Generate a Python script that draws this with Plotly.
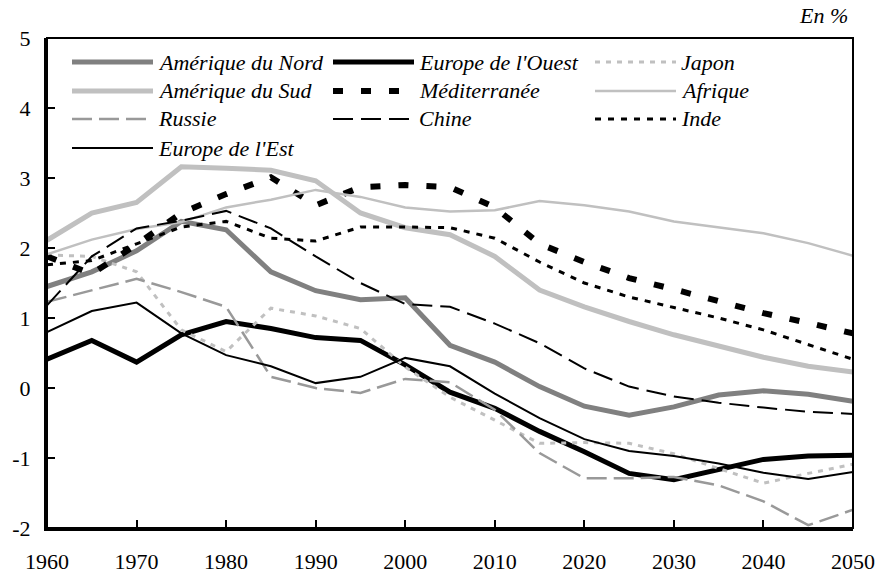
import plotly.graph_objects as go

years = list(range(1960, 2051, 5))

amerique_nord = [1.45, 1.66, 1.96, 2.38, 2.26, 1.66, 1.39, 1.26, 1.29, 0.61, 0.37, 0.02, -0.26, -0.39, -0.27, -0.10, -0.04, -0.09, -0.19]
europe_ouest = [0.41, 0.68, 0.37, 0.76, 0.95, 0.85, 0.72, 0.68, 0.33, -0.06, -0.29, -0.62, -0.91, -1.22, -1.31, -1.17, -1.02, -0.97, -0.96]
japon = [1.90, 1.88, 1.66, 0.83, 0.52, 1.14, 1.03, 0.85, 0.30, -0.13, -0.46, -0.79, -0.78, -0.79, -0.94, -1.15, -1.36, -1.22, -1.09]
amerique_sud = [2.11, 2.50, 2.65, 3.16, 3.14, 3.11, 2.96, 2.50, 2.29, 2.19, 1.88, 1.40, 1.16, 0.95, 0.76, 0.60, 0.44, 0.31, 0.23]
mediterranee = [1.88, 1.63, 2.05, 2.50, 2.77, 3.01, 2.61, 2.87, 2.90, 2.87, 2.58, 2.06, 1.80, 1.57, 1.41, 1.24, 1.07, 0.93, 0.78]
afrique = [1.91, 2.12, 2.27, 2.37, 2.58, 2.69, 2.83, 2.73, 2.58, 2.52, 2.54, 2.67, 2.61, 2.52, 2.38, 2.30, 2.21, 2.07, 1.89]
russie = [1.23, 1.40, 1.56, 1.37, 1.16, 0.16, 0.00, -0.07, 0.13, 0.08, -0.31, -0.93, -1.29, -1.29, -1.27, -1.39, -1.62, -1.96, -1.74]
chine = [1.18, 1.88, 2.28, 2.39, 2.53, 2.28, 1.88, 1.50, 1.20, 1.16, 0.92, 0.64, 0.28, 0.02, -0.12, -0.21, -0.28, -0.34, -0.37]
inde = [1.76, 1.82, 2.06, 2.30, 2.38, 2.14, 2.10, 2.30, 2.30, 2.29, 2.14, 1.80, 1.50, 1.30, 1.15, 1.00, 0.83, 0.62, 0.41]
europe_est = [0.80, 1.10, 1.22, 0.78, 0.47, 0.31, 0.07, 0.16, 0.43, 0.31, -0.08, -0.43, -0.73, -0.90, -0.97, -1.08, -1.21, -1.30, -1.20]

series_names = ["Amérique du Nord", "Europe de l'Ouest", "Japon",
                "Amérique du Sud", "Méditerranée", "Afrique",
                "Russie", "Chine", "Inde", "Europe de l'Est"]
series_values = [amerique_nord, europe_ouest, japon, amerique_sud, mediterranee,
                 afrique, russie, chine, inde, europe_est]

x_ticks = list(range(1960, 2051, 10))
y_ticks = list(range(-2, 6))
y_tick_labels = ["-2", "-1", "0", "1", "2", "3", "4", "5"]
unit_label = "En %"

styles = [
    ("#808080", 5, "solid"),
    ("#000000", 5, "solid"),
    ("#c0c0c0", 3, "5px,6px"),
    ("#c0c0c0", 5, "solid"),
    ("#000000", 6, "10px,18px"),
    ("#c0c0c0", 2.5, "solid"),
    ("#999999", 2.5, "20px,7px"),
    ("#000000", 2, "20px,8px"),
    ("#000000", 3, "6px,7px"),
    ("#000000", 2, "solid"),
]

FONT = "Liberation Serif"
W, H = 880, 572
ML, MR, MT, MB = 47, 27, 38, 44
PW, PH = W - ML - MR, H - MT - MB

fig = go.Figure()
for name, vals, (col, wd, dash) in zip(series_names, series_values, styles):
    fig.add_trace(go.Scatter(x=years, y=vals, mode="lines", name=name,
                             line=dict(color=col, width=wd, dash=dash),
                             showlegend=False))

col_x = [25, 286, 548]
row_y = [24, 53, 81, 110]
sample_len = 81
shapes = []
annotations = []
for i, (name, (col, wd, dash)) in enumerate(zip(series_names, styles)):
    r, c = divmod(i, 3)
    x0 = col_x[c] / PW
    x1 = (col_x[c] + sample_len) / PW
    yy = 1 - row_y[r] / PH
    shapes.append(dict(type="line", xref="paper", yref="paper", x0=x0, x1=x1, y0=yy, y1=yy,
                       line=dict(color=col, width=wd, dash=dash)))
    annotations.append(dict(xref="paper", yref="paper", x=(col_x[c] + sample_len + 3) / PW, y=yy,
                            xanchor="left", yanchor="middle", showarrow=False,
                            text=f"<i>{name}</i>", font=dict(family=FONT, size=22, color="black")))

shapes.append(dict(type="rect", xref="paper", yref="paper", x0=0, x1=1, y0=0, y1=1,
                   line=dict(color="black", width=2), layer="above"))

annotations.append(dict(xref="paper", yref="paper", x=(853 - 47 - 3) / PW, y=1, xanchor="right",
                        yanchor="bottom", yshift=8, showarrow=False,
                        text=f"<i>{unit_label}</i>", font=dict(family=FONT, size=22, color="black")))

fig.update_layout(
    width=W, height=H,
    margin=dict(l=ML, r=MR, t=MT, b=MB, pad=0),
    paper_bgcolor="white", plot_bgcolor="white",
    font=dict(family=FONT, size=22, color="black"),
    shapes=shapes, annotations=annotations,
    xaxis=dict(range=[1960, 2050], tickvals=x_ticks, ticks="inside", ticklen=8, tickwidth=2,
               tickcolor="black", showline=True, linecolor="black", linewidth=3,
               showgrid=False, zeroline=False, ticklabelstandoff=12, automargin=False,
               tickfont=dict(family=FONT, size=22, color="black")),
    yaxis=dict(range=[-2, 5], tickvals=y_ticks, ticktext=y_tick_labels, ticks="inside",
               ticklen=8, tickwidth=2,
               tickcolor="black", showline=True, linecolor="black", linewidth=3,
               showgrid=False, zeroline=False, ticklabelstandoff=9, automargin=False,
               tickfont=dict(family=FONT, size=22, color="black")),
)

fig.write_html("out.html", config={"displayModeBar": False},
               post_script="document.body.style.margin='0';document.body.style.overflow='hidden';")
